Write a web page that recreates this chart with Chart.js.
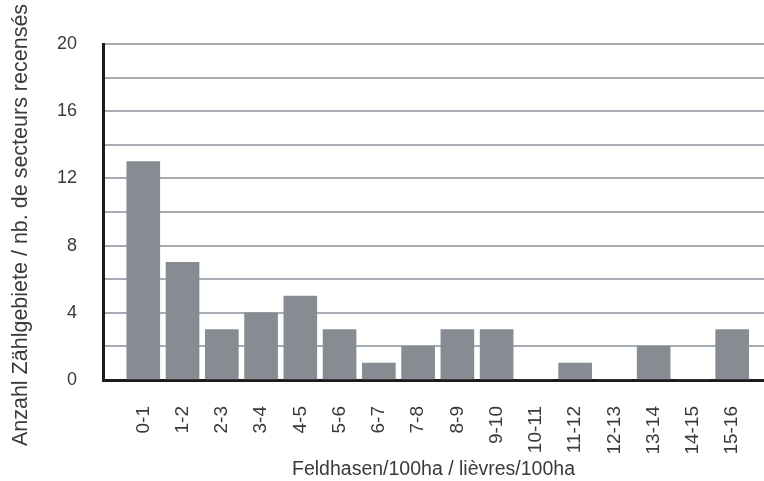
<!DOCTYPE html>
<html>
<head>
<meta charset="utf-8">
<script src="https://cdn.jsdelivr.net/npm/chart.js@4.4.1/dist/chart.umd.min.js"></script>
<style>
  html, body { margin: 0; padding: 0; background: #fff; }
  #wrap { width: 764px; height: 481px; position: relative; }
</style>
</head>
<body>
<div id="wrap"><canvas id="hareChart"></canvas></div>
<script>
const classLabels = ['0-1', '1-2', '2-3', '3-4', '4-5', '5-6', '6-7', '7-8', '8-9', '9-10',
  '10-11', '11-12', '12-13', '13-14', '14-15', '15-16'];
const areaCounts = [13, 7, 3, 4, 5, 3, 1, 2, 3, 3, 0, 1, 0, 2, 0, 3];
const yTicks = [0, 4, 8, 12, 16, 20];

const xTitle = 'Feldhasen/100ha / lièvres/100ha';
const yTitle = 'Anzahl Zählgebiete / nb. de secteurs recensés';

const textColor = '#3a3a3a';
const barColor = '#878b92';
const gridColor = '#a6acb3';
const axisColor = '#1b1b1b';
const fontFamily = '"Liberation Sans", Arial, sans-serif';

const points = areaCounts.map((count, idx) => ({ x: idx, y: count }));

// y title sits a bit lower than the plot centre in the original, so draw it by hand
const yTitlePlugin = {
    id: 'yTitle',
    afterDraw(chart) {
        const ctx = chart.ctx;
        ctx.save();
        ctx.translate(21, 225);
        ctx.rotate(-Math.PI / 2);
        ctx.fillStyle = textColor;
        ctx.font = `21.5px ${fontFamily}`;
        ctx.textAlign = 'center';
        ctx.textBaseline = 'middle';
        ctx.fillText(yTitle, 0, 0);
        ctx.restore();
    },
};

new Chart(document.getElementById('hareChart'), {
    type: 'bar',
    data: {
        datasets: [{
            data: points,
            backgroundColor: barColor,
            borderWidth: 0,
            barThickness: 33,
        }],
    },
    options: {
        responsive: true,
        maintainAspectRatio: false,
        animation: false,
        layout: { padding: { top: 44, right: 0, bottom: 0, left: 0 } },
        plugins: {
            legend: { display: false },
            tooltip: { enabled: false },
        },
        scales: {
            x: {
                type: 'linear',
                offset: false,
                min: -1.026,
                max: 15.81,
                afterBuildTicks: scale => {
                    scale.ticks = classLabels.map((_, i) => ({ value: i }));
                },
                afterFit: scale => {
                    scale.height = 101;
                    scale.paddingLeft = 0;
                    scale.paddingRight = 0;
                },
                grid: { display: false, drawTicks: false },
                border: { display: true, color: axisColor, width: 3 },
                ticks: {
                    autoSkip: false,
                    maxRotation: 90,
                    minRotation: 90,
                    padding: 26,
                    color: textColor,
                    font: { family: fontFamily, size: 19 },
                    callback: value => classLabels[value] ?? '',
                },
                title: {
                    display: true,
                    text: xTitle,
                    color: textColor,
                    font: { family: fontFamily, size: 19.5 },
                    padding: { top: 0, bottom: 0 },
                },
            },
            y: {
                min: 0,
                max: 20,
                afterFit: scale => { scale.width = 103; },
                grid: { color: gridColor, lineWidth: 2, drawTicks: false },
                border: { display: true, color: axisColor, width: 3 },
                ticks: {
                    stepSize: 2,
                    padding: 26,
                    color: textColor,
                    font: { family: fontFamily, size: 18 },
                    callback: value => yTicks.includes(value) ? value : '',
                },
            },
        },
    },
    plugins: [yTitlePlugin],
});
</script>
</body>
</html>
